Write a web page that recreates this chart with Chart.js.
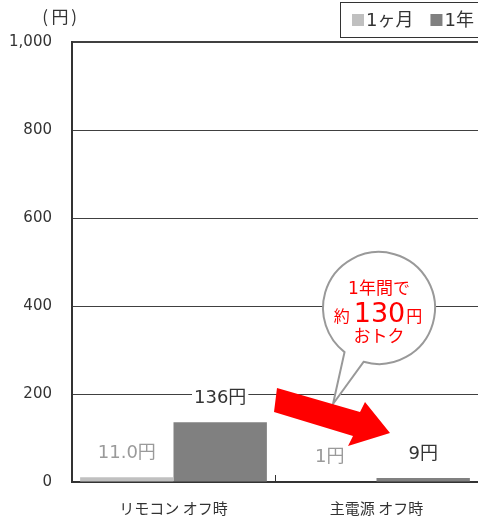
<!DOCTYPE html>
<html lang="ja">
<head>
<meta charset="utf-8">
<script src="https://cdn.jsdelivr.net/npm/chart.js@4.4.1/dist/chart.umd.min.js"></script>
<style>
  html, body { margin: 0; padding: 0; background: #fff; }
  #wrap { width: 478px; height: 521px; }
</style>
</head>
<body>
<div id="wrap"><canvas id="costChart" width="478" height="521"></canvas></div>
<script>
// standby power cost, yen
const categories = ['リモコン オフ時', '主電源 オフ時'];
const seriesNames = ['1ヶ月', '1年'];
const monthlyCost = [11.0, 1];
const yearlyCost = [136, 9];
const monthlyDecimals = [1, 0];
const yearlyDecimals = [0, 0];
const yMin = 0;
const yMax = 1000;
const yStep = 200;
const unitParts = ['(', '円', ')'];
const savingLines = ['1年間で', '約', '130', '円', 'おトク'];

const FONT = '"DejaVu Sans", "Noto Sans CJK JP", sans-serif';
const JP_FONT = '"Noto Sans CJK JP", sans-serif';
const colors = ['#c0c0c0', '#808080'];
const labelColors = ['#9a9a9a', '#333333'];

// value labels above each bar, on a white box so the grid line breaks behind them
const valueLabels = {
    id: 'valueLabels',
    afterDatasetsDraw(chart) {
        const ctx = chart.ctx;
        const decimals = [monthlyDecimals, yearlyDecimals];
        ctx.save();
        ctx.font = '18px ' + FONT;
        ctx.textAlign = 'center';
        ctx.textBaseline = 'middle';
        chart.data.datasets.forEach((ds, i) => {
            chart.getDatasetMeta(i).data.forEach((bar, j) => {
                const text = ds.data[j].toFixed(decimals[i][j]) + '円';
                const y = bar.y - 24;
                const w = ctx.measureText(text).width;
                ctx.fillStyle = '#fff';
                ctx.fillRect(bar.x - w / 2 - 2, y - 9, w + 4, 18);
                ctx.fillStyle = labelColors[i];
                ctx.fillText(text, bar.x, y);
            });
        });
        ctx.restore();
    }
};

// unit label, boxed legend, category divider, callout and arrow
const decorations = {
    id: 'decorations',
    afterDraw(chart) {
        const ctx = chart.ctx;
        const area = chart.chartArea;
        const xs = chart.scales.x;
        ctx.save();

        // unit (円) with wide brackets
        ctx.fillStyle = '#333';
        ctx.font = '17px ' + JP_FONT;
        ctx.textAlign = 'center';
        ctx.textBaseline = 'middle';
        ctx.fillText(unitParts[0], 45, 17);
        ctx.fillText(unitParts[1], 60, 17);
        ctx.fillText(unitParts[2], 74, 17);

        // small divider between the two categories
        const mid = (xs.getPixelForValue(0) + xs.getPixelForValue(1)) / 2;
        ctx.strokeStyle = '#333';
        ctx.lineWidth = 1;
        ctx.beginPath();
        ctx.moveTo(Math.round(mid) + 0.5, area.bottom);
        ctx.lineTo(Math.round(mid) + 0.5, area.bottom - 7);
        ctx.stroke();

        // legend box
        ctx.strokeStyle = '#333';
        ctx.lineWidth = 1;
        ctx.strokeRect(340.5, 2.5, 160, 35);
        ctx.font = '18px ' + FONT;
        ctx.textAlign = 'left';
        ctx.textBaseline = 'middle';
        let lx = 352;
        chart.data.datasets.forEach(ds => {
            ctx.fillStyle = ds.backgroundColor;
            ctx.fillRect(lx, 14, 12, 12);
            ctx.fillStyle = '#333';
            ctx.fillText(ds.label, lx + 14, 21);
            lx += 14 + ctx.measureText(ds.label).width + 17;
        });

        // speech bubble
        const cx = 379, cy = 308, r = 56;
        const a1 = 106 * Math.PI / 180, a2 = 128 * Math.PI / 180;
        ctx.beginPath();
        ctx.moveTo(333, 404);
        ctx.lineTo(cx + r * Math.cos(a1), cy + r * Math.sin(a1));
        ctx.arc(cx, cy, r, a1, a2, true);
        ctx.closePath();
        ctx.fillStyle = '#fff';
        ctx.fill();
        ctx.strokeStyle = '#999';
        ctx.lineWidth = 2;
        ctx.stroke();

        ctx.fillStyle = '#ff0000';
        ctx.textAlign = 'center';
        ctx.textBaseline = 'middle';
        ctx.font = '17px ' + FONT;
        ctx.fillText(savingLines[0], cx, 290);
        ctx.fillText(savingLines[4], cx, 338);

        ctx.textAlign = 'left';
        ctx.textBaseline = 'alphabetic';
        const small = '16px ' + FONT, big = '27px ' + FONT;
        ctx.font = small;
        const w1 = ctx.measureText(savingLines[1]).width;
        const w3 = ctx.measureText(savingLines[3]).width;
        ctx.font = big;
        const w2 = ctx.measureText(savingLines[2]).width;
        const gapL = 4, gapR = 1;
        let tx = cx - 1 - (w1 + w2 + w3 + gapL + gapR) / 2;
        ctx.font = small;
        ctx.fillText(savingLines[1], tx, 322);
        ctx.font = big;
        ctx.fillText(savingLines[2], tx + w1 + gapL, 322);
        ctx.font = small;
        ctx.fillText(savingLines[3], tx + w1 + w2 + gapL + gapR, 322);

        // red arrow
        ctx.fillStyle = '#ff0000';
        ctx.beginPath();
        ctx.moveTo(277, 388);
        ctx.lineTo(360, 412);
        ctx.lineTo(365, 402);
        ctx.lineTo(390, 433);
        ctx.lineTo(348, 446);
        ctx.lineTo(353, 436);
        ctx.lineTo(274, 412);
        ctx.closePath();
        ctx.fill();

        ctx.restore();
    }
};

new Chart(document.getElementById('costChart'), {
    type: 'bar',
    data: {
        labels: categories,
        datasets: [
            { label: seriesNames[0], data: monthlyCost, backgroundColor: colors[0] },
            { label: seriesNames[1], data: yearlyCost, backgroundColor: colors[1] }
        ]
    },
    options: {
        responsive: false,
        animation: false,
        layout: { padding: { top: 42, left: 0, right: 0, bottom: 0 } },
        datasets: { bar: { categoryPercentage: 0.92, barPercentage: 1.0 } },
        plugins: {
            legend: { display: false },
            tooltip: { enabled: false }
        },
        scales: {
            x: {
                grid: { display: false, drawTicks: false },
                border: { display: true, color: '#333', width: 2 },
                ticks: { color: '#333', font: { size: 15, family: JP_FONT }, padding: 17 },
                afterFit(scale) { scale.height = 39; }
            },
            y: {
                min: yMin,
                max: yMax,
                ticks: {
                    stepSize: yStep,
                    color: '#333',
                    padding: 20,
                    font: { size: 15, family: FONT },
                    callback: v => v.toLocaleString('en-US')
                },
                grid: {
                    drawTicks: false,
                    color: '#404040',
                    lineWidth: c => (c.tick && c.tick.value === yMax ? 2 : 1)
                },
                border: { display: true, color: '#333', width: 2 },
                afterFit(scale) { scale.width = 72; }
            }
        }
    },
    plugins: [valueLabels, decorations]
});
</script>
</body>
</html>
